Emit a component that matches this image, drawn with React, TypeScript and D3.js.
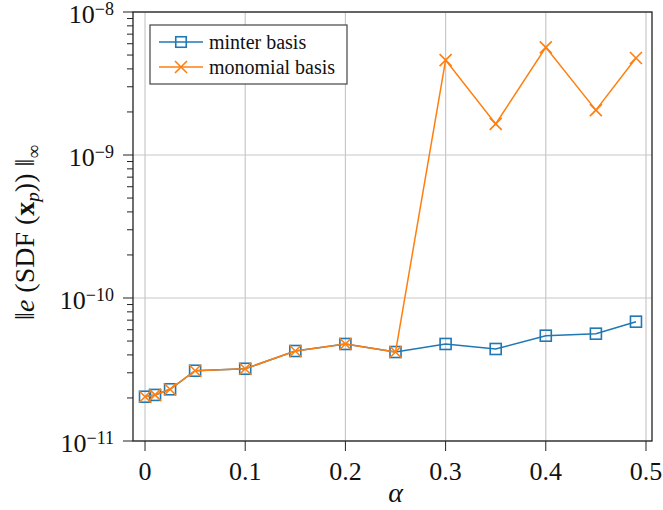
import React from 'react';
import * as d3 from 'd3';

const alphas = [0, 0.01, 0.025, 0.05, 0.1, 0.15, 0.2, 0.25, 0.3, 0.35, 0.4, 0.45, 0.49];
const minterErr = [2.04e-11, 2.1e-11, 2.3e-11, 3.1e-11, 3.2e-11, 4.26e-11, 4.77e-11, 4.19e-11, 4.77e-11, 4.4e-11, 5.45e-11, 5.63e-11, 6.83e-11];
const monomialErr = [2.04e-11, 2.1e-11, 2.3e-11, 3.1e-11, 3.2e-11, 4.26e-11, 4.77e-11, 4.19e-11, 4.61e-9, 1.65e-9, 5.66e-9, 2.06e-9, 4.77e-9];
const xTicks = [0, 0.1, 0.2, 0.3, 0.4, 0.5];
const xTickLabels = ['0', '0.1', '0.2', '0.3', '0.4', '0.5'];
const yExponents = [-11, -10, -9, -8];
const seriesNames = ['minter basis', 'monomial basis'];

const BLUE = '#1f77b4';
const ORANGE = '#ff7f0e';
const FONT = '"Liberation Serif", "DejaVu Serif", serif';

export default function App() {
  const W = 663, H = 510;
  const left = 133, right = 652, top = 12, bottom = 441;
  const x = d3.scaleLinear().domain([-0.012, 0.506]).range([left, right]);
  const y = d3.scaleLog().domain([1e-11, 1e-8]).range([bottom, top]);

  const line = d3.line<[number, number]>().x(d => x(d[0])).y(d => y(d[1]));
  const minterPts = alphas.map((a, i) => [a, minterErr[i]] as [number, number]);
  const monoPts = alphas.map((a, i) => [a, monomialErr[i]] as [number, number]);

  const minorTicks: number[] = [];
  for (let e = -11; e < -8; e++) {
    for (let k = 2; k <= 9; k++) minorTicks.push(k * Math.pow(10, e));
  }

  const sq = 11;
  const xs = 6;

  const square = (cx: number, cy: number, key: string | number, s = sq) => (
    <rect key={key} x={cx - s / 2} y={cy - s / 2} width={s} height={s} fill="none" stroke={BLUE} strokeWidth={1.6} />
  );
  const cross = (cx: number, cy: number, key: string | number, r = xs) => (
    <path key={key} d={`M${cx - r},${cy - r}L${cx + r},${cy + r}M${cx - r},${cy + r}L${cx + r},${cy - r}`} stroke={ORANGE} strokeWidth={1.6} fill="none" />
  );

  const legX = 150, legY = 25, legW = 197, legH = 59;
  const rowY = [42, 67];

  return (
    <svg width={W} height={H} style={{ position: 'absolute', left: 0, top: 0, background: '#fff' }} fontFamily={FONT}>
      <rect x={0} y={0} width={W} height={H} fill="#fff" />
      {/* grid */}
      {xTicks.map((t, i) => (
        <line key={'gx' + i} x1={x(t)} x2={x(t)} y1={top} y2={bottom} stroke="#c8c8c8" strokeWidth={1.2} />
      ))}
      {yExponents.map((e, i) => (
        <line key={'gy' + i} x1={left} x2={right} y1={y(Math.pow(10, e))} y2={y(Math.pow(10, e))} stroke="#c8c8c8" strokeWidth={1.2} />
      ))}
      {/* series */}
      <path d={line(minterPts) || ''} fill="none" stroke={BLUE} strokeWidth={1.5} />
      {minterPts.map((p, i) => square(x(p[0]), y(p[1]), 'm' + i))}
      <path d={line(monoPts) || ''} fill="none" stroke={ORANGE} strokeWidth={1.5} />
      {monoPts.map((p, i) => cross(x(p[0]), y(p[1]), 'o' + i))}
      {/* frame */}
      <rect x={left} y={top} width={right - left} height={bottom - top} fill="none" stroke="#222" strokeWidth={1.3} />
      {/* x ticks */}
      {xTicks.map((t, i) => (
        <g key={'xt' + i}>
          <line x1={x(t)} x2={x(t)} y1={bottom} y2={bottom + 10} stroke="#222" strokeWidth={1} />
          <text x={x(t)} y={480} textAnchor="middle" fontSize={26} fill="#111">{xTickLabels[i]}</text>
        </g>
      ))}
      {/* y ticks */}
      {minorTicks.map((v, i) => (
        <line key={'ym' + i} x1={left - 6} x2={left} y1={y(v)} y2={y(v)} stroke="#222" strokeWidth={1} />
      ))}
      {yExponents.map((e, i) => (
        <g key={'yt' + i}>
          <line x1={left - 10} x2={left} y1={y(Math.pow(10, e))} y2={y(Math.pow(10, e))} stroke="#222" strokeWidth={1} />
          <text x={114} y={y(Math.pow(10, e)) + 11} textAnchor="end" fontSize={26} fill="#111">
            10<tspan fontSize={18} dy={-8}>{'\u2212' + Math.abs(e)}</tspan>
          </text>
        </g>
      ))}
      {/* axis labels */}
      <text x={x(0.25)} y={502} textAnchor="middle" fontSize={28} fontStyle="italic" fill="#111">α</text>
      <text transform={`translate(34,${(top + bottom) / 2 + 6}) rotate(-90)`} textAnchor="middle" fontSize={28} fill="#111">
        ‖<tspan fontStyle="italic">e</tspan> (SDF (<tspan fontWeight="bold">x</tspan><tspan fontStyle="italic" fontSize={19} dy={5}>p</tspan><tspan dy={-5}>)) ‖</tspan><tspan fontSize={19} dy={6}>∞</tspan>
      </text>
      {/* legend */}
      <rect x={legX} y={legY} width={legW} height={legH} fill="#fff" stroke="#444" strokeWidth={1.2} />
      <line x1={159} x2={203} y1={rowY[0]} y2={rowY[0]} stroke={BLUE} strokeWidth={1.5} />
      {square(181, rowY[0], 'ls', 10.5)}
      <text x={209} y={rowY[0] + 6.5} fontSize={20} fill="#111">{seriesNames[0]}</text>
      <line x1={159} x2={203} y1={rowY[1]} y2={rowY[1]} stroke={ORANGE} strokeWidth={1.5} />
      {cross(181, rowY[1], 'lx', 6)}
      <text x={209} y={rowY[1] + 6.5} fontSize={20} fill="#111">{seriesNames[1]}</text>
    </svg>
  );
}
